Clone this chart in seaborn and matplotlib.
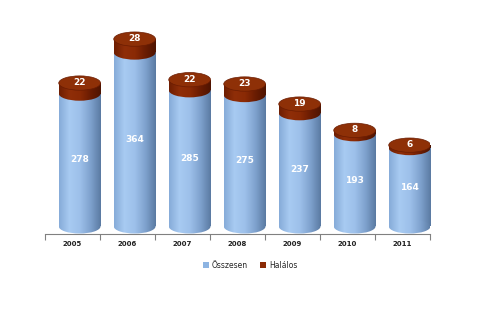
import numpy as np
import pandas as pd
import matplotlib
matplotlib.use("Agg")
import matplotlib.pyplot as plt
import seaborn as sns
from matplotlib.patches import Ellipse, Rectangle, Patch
from matplotlib.colors import LinearSegmentedColormap

years = ['2005', '2006', '2007', '2008', '2009', '2010', '2011']
osszesen = [278, 364, 285, 275, 237, 193, 164]
halalos = [22, 28, 22, 23, 19, 8, 6]

df = pd.DataFrame({'year': years, 'osszesen': osszesen, 'halalos': halalos})
df['top'] = df['osszesen'] + df['halalos']

sns.set_theme(style='white')
plt.rcParams['font.family'] = ['DejaVu Sans']

fig = plt.figure(figsize=(4.86, 3.10), dpi=100)
ax = fig.add_axes([45/486, 1 - 234/310, 385/486, 214/310])

BLUE = '#8DB4E2'
RED = '#8B2A05'
sns.barplot(data=df, x='year', y='top', color=RED, width=0.76, ax=ax, saturation=1)
sns.barplot(data=df, x='year', y='osszesen', color=BLUE, width=0.76, ax=ax, saturation=1)

patches = list(ax.patches)
n = len(years)
red_bars = patches[:n]
blue_bars = patches[n:]
for p in patches:
    p.set_visible(False)

EH = 30  # ellipse height in data units
SHIFT = 0.13
blue_cmap = LinearSegmentedColormap.from_list('b', ['#86ABD8', '#A8CBF2', '#9DC0EA', '#7FA2CE', '#5A7AA2'])
red_cmap = LinearSegmentedColormap.from_list('r', ['#6E1E02', '#8F2E08', '#8A2A05', '#6A1C02', '#4E1401'])
grad = np.linspace(0, 1, 256).reshape(1, -1)

for i in range(n):
    bb = blue_bars[i]
    rb = red_bars[i]
    x0 = bb.get_x() + SHIFT
    w = bb.get_width()
    xc = x0 + w / 2
    yb = bb.get_height()
    yt = rb.get_height()
    # blue body
    ext = (x0, x0 + w, -EH, yb)
    r1 = Rectangle((x0, 0), w, yb, transform=ax.transData)
    e1 = Ellipse((xc, 0), w, EH, transform=ax.transData)
    for clip in (r1, e1):
        im = ax.imshow(grad, cmap=blue_cmap, extent=ext, aspect='auto', zorder=2)
        im.set_clip_path(clip)
    # red body
    ext2 = (x0, x0 + w, yb - EH, yt)
    r2 = Rectangle((x0, yb), w, yt - yb, transform=ax.transData)
    e2 = Ellipse((xc, yb), w, EH, transform=ax.transData)
    for clip in (r2, e2):
        im = ax.imshow(grad, cmap=red_cmap, extent=ext2, aspect='auto', zorder=3)
        im.set_clip_path(clip)
    # top cap
    ax.add_patch(Ellipse((xc, yt), w, EH, facecolor='#8E3007', edgecolor='#6A1C02', lw=0.5, zorder=4))
    ax.text(xc, yb / 2, str(osszesen[i]), color='white', fontsize=6.5, fontweight='bold',
            ha='center', va='center', zorder=5)
    ax.text(xc, yt + 1, str(halalos[i]), color='white', fontsize=6.5, fontweight='bold',
            ha='center', va='center', zorder=5)

ax.set_xlim(-0.5, n - 0.5)
ax.set_ylim(-16, 432)
ax.set_xlabel('')
ax.set_ylabel('')
ax.set_yticks([])
for s in ['top', 'right', 'left']:
    ax.spines[s].set_visible(False)
ax.spines['bottom'].set_color('#808080')
ax.spines['bottom'].set_linewidth(0.8)
ax.set_xticks(range(n))
ax.set_xticklabels(years, fontsize=5, fontweight='bold', color='#222222')
ax.tick_params(axis='x', which='major', length=0, pad=5)
ax.set_xticks(np.arange(-0.5, n, 1), minor=True)
ax.tick_params(axis='x', which='minor', length=4, width=0.8, color='#808080', direction='out', bottom=True)

handles = [Patch(facecolor=BLUE, edgecolor='none', label='Összesen'),
           Patch(facecolor=RED, edgecolor='none', label='Halálos')]
fig.legend(handles=handles, loc='center', bbox_to_anchor=(250/486, 1 - 265/310), ncol=2,
           frameon=False, fontsize=5.5, handlelength=0.8, handleheight=0.8, handletextpad=0.4,
           columnspacing=1.5)

fig.savefig('out.png', dpi=100, facecolor='white')
